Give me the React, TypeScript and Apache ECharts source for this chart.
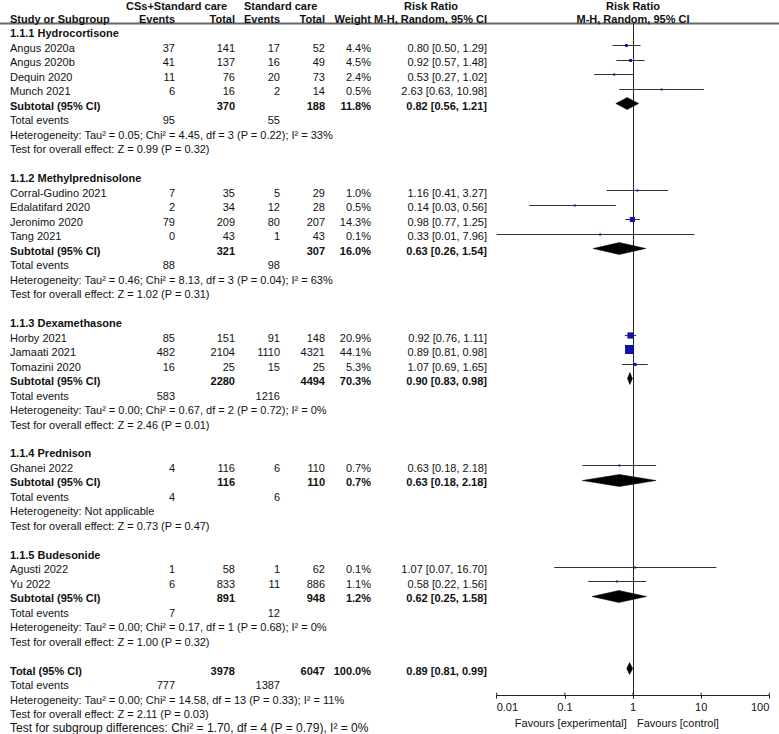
import React, { useEffect, useRef } from "react";
import * as echarts from "echarts";

// ---- study level data ----
const studies = [
  "Angus 2020a", "Angus 2020b", "Dequin 2020", "Munch 2021",
  "Corral-Gudino 2021", "Edalatifard 2020", "Jeronimo 2020", "Tang 2021",
  "Horby 2021", "Jamaati 2021", "Tomazini 2020",
  "Ghanei 2022",
  "Agusti 2022", "Yu 2022",
];
const studyGroup = [0, 0, 0, 0, 1, 1, 1, 1, 2, 2, 2, 3, 4, 4];
const expEvents = [37, 41, 11, 6, 7, 2, 79, 0, 85, 482, 16, 4, 1, 6];
const expTotal = [141, 137, 76, 16, 35, 34, 209, 43, 151, 2104, 25, 116, 58, 833];
const ctlEvents = [17, 16, 20, 2, 5, 12, 80, 1, 91, 1110, 15, 6, 1, 11];
const ctlTotal = [52, 49, 73, 14, 29, 28, 207, 43, 148, 4321, 25, 110, 62, 886];
const weights = [4.4, 4.5, 2.4, 0.5, 1.0, 0.5, 14.3, 0.1, 20.9, 44.1, 5.3, 0.7, 0.1, 1.1];
const riskRatio = [0.80, 0.92, 0.53, 2.63, 1.16, 0.14, 0.98, 0.33, 0.92, 0.89, 1.07, 0.63, 1.07, 0.58];
const ciLow = [0.50, 0.57, 0.27, 0.63, 0.41, 0.03, 0.77, 0.01, 0.76, 0.81, 0.69, 0.18, 0.07, 0.22];
const ciHigh = [1.29, 1.48, 1.02, 10.98, 3.27, 0.56, 1.25, 7.96, 1.11, 0.98, 1.65, 2.18, 16.70, 1.56];

// ---- subgroup data ----
const groupNames = [
  "1.1.1 Hydrocortisone", "1.1.2 Methylprednisolone", "1.1.3 Dexamethasone",
  "1.1.4 Prednison", "1.1.5 Budesonide",
];
const subExpTotal = [370, 321, 2280, 116, 891];
const subCtlTotal = [188, 307, 4494, 110, 948];
const subWeight = [11.8, 16.0, 70.3, 0.7, 1.2];
const subRR = [0.82, 0.63, 0.90, 0.63, 0.62];
const subLow = [0.56, 0.26, 0.83, 0.18, 0.25];
const subHigh = [1.21, 1.54, 0.98, 2.18, 1.58];
const subExpEvents = [95, 88, 583, 4, 7];
const subCtlEvents = [55, 98, 1216, 6, 12];
const subHeterogeneity = [
  "Heterogeneity: Tau² = 0.05; Chi² = 4.45, df = 3 (P = 0.22); I² = 33%",
  "Heterogeneity: Tau² = 0.46; Chi² = 8.13, df = 3 (P = 0.04); I² = 63%",
  "Heterogeneity: Tau² = 0.00; Chi² = 0.67, df = 2 (P = 0.72); I² = 0%",
  "Heterogeneity: Not applicable",
  "Heterogeneity: Tau² = 0.00; Chi² = 0.17, df = 1 (P = 0.68); I² = 0%",
];
const subOverall = [
  "Test for overall effect: Z = 0.99 (P = 0.32)",
  "Test for overall effect: Z = 1.02 (P = 0.31)",
  "Test for overall effect: Z = 2.46 (P = 0.01)",
  "Test for overall effect: Z = 0.73 (P = 0.47)",
  "Test for overall effect: Z = 1.00 (P = 0.32)",
];

// ---- pooled totals ----
const totalExp = 3978;
const totalCtl = 6047;
const totalWeight = 100.0;
const totalRR = 0.89;
const totalLow = 0.81;
const totalHigh = 0.99;
const totalExpEvents = 777;
const totalCtlEvents = 1387;
const totalHeterogeneity = "Heterogeneity: Tau² = 0.00; Chi² = 14.58, df = 13 (P = 0.33); I² = 11%";
const totalOverall = "Test for overall effect: Z = 2.11 (P = 0.03)";
const subgroupDifferences = "Test for subgroup differences: Chi² = 1.70, df = 4 (P = 0.79), I² = 0%";

// ---- axis ----
const tickValues = [0.01, 0.1, 1, 10, 100];
const tickLabels = ["0.01", "0.1", "1", "10", "100"];
const favoursLeft = "Favours [experimental]";
const favoursRight = "Favours [control]";

// ---- layout ----
const W = 779;
const H = 734;
const ROW_H = 14.49;
const TOP = 4.3;
const LAST_ROW = 50;
const AXIS_Y = 695.7;
const RULE_Y = 23.5;
const PLOT_LEFT = 496.7;
const PLOT_RIGHT = 769.3;
const HEADER_TOP_ROW = 0.12; // keeps the first header line inside the page
const MARK_SHIFT = -0.18; // marks sit slightly above the text middle
const FONT = '"Liberation Sans", Arial, sans-serif';
const TEXT_COLOR = "#111";
const COL = { name: 10, expEv: 175, expTot: 235, ctlEv: 280, ctlTot: 325, weight: 371, ci: 487, plot: 633 };

type Cell = {
  x: number; row: number; text: string; align: "left" | "right" | "center"; bold?: boolean; size?: number;
};
type Mark = { row: number; kind: "study" | "diamond"; rr: number; lo: number; hi: number; w: number };

const fmtCI = (r: number, l: number, h: number) => `${r.toFixed(2)} [${l.toFixed(2)}, ${h.toFixed(2)}]`;
const fmtW = (w: number) => `${w.toFixed(1)}%`;

function buildTable() {
  const cells: Cell[] = [];
  const marks: Mark[] = [];
  const add = (x: number, row: number, text: string | number, align: Cell["align"], bold = false, size = 11) =>
    cells.push({ x, row, text: String(text), align, bold, size });

  // header
  add(126, HEADER_TOP_ROW, "CSs+Standard care", "left", true);
  add(244, HEADER_TOP_ROW, "Standard care", "left", true);
  add(431, HEADER_TOP_ROW, "Risk Ratio", "center", true);
  add(COL.plot, HEADER_TOP_ROW, "Risk Ratio", "center", true);
  add(COL.name, 1, "Study or Subgroup", "left", true);
  add(COL.expEv, 1, "Events", "right", true);
  add(COL.expTot, 1, "Total", "right", true);
  add(COL.ctlEv, 1, "Events", "right", true);
  add(COL.ctlTot, 1, "Total", "right", true);
  add(COL.weight, 1, "Weight", "right", true);
  add(COL.ci, 1, "M-H, Random, 95% CI", "right", true);
  add(COL.plot, 1, "M-H, Random, 95% CI", "center", true);

  let row = 2;
  groupNames.forEach((g, gi) => {
    add(COL.name, row++, g, "left", true);
    studies.forEach((s, si) => {
      if (studyGroup[si] !== gi) return;
      add(COL.name, row, s, "left");
      add(COL.expEv, row, expEvents[si], "right");
      add(COL.expTot, row, expTotal[si], "right");
      add(COL.ctlEv, row, ctlEvents[si], "right");
      add(COL.ctlTot, row, ctlTotal[si], "right");
      add(COL.weight, row, fmtW(weights[si]), "right");
      add(COL.ci, row, fmtCI(riskRatio[si], ciLow[si], ciHigh[si]), "right");
      marks.push({ row, kind: "study", rr: riskRatio[si], lo: ciLow[si], hi: ciHigh[si], w: weights[si] });
      row++;
    });
    add(COL.name, row, "Subtotal (95% CI)", "left", true);
    add(COL.expTot, row, subExpTotal[gi], "right", true);
    add(COL.ctlTot, row, subCtlTotal[gi], "right", true);
    add(COL.weight, row, fmtW(subWeight[gi]), "right", true);
    add(COL.ci, row, fmtCI(subRR[gi], subLow[gi], subHigh[gi]), "right", true);
    marks.push({ row, kind: "diamond", rr: subRR[gi], lo: subLow[gi], hi: subHigh[gi], w: subWeight[gi] });
    row++;
    add(COL.name, row, "Total events", "left");
    add(COL.expEv, row, subExpEvents[gi], "right");
    add(COL.ctlEv, row, subCtlEvents[gi], "right");
    row++;
    add(COL.name, row++, subHeterogeneity[gi], "left");
    add(COL.name, row++, subOverall[gi], "left");
    row++; // blank spacer
  });

  add(COL.name, row, "Total (95% CI)", "left", true);
  add(COL.expTot, row, totalExp, "right", true);
  add(COL.ctlTot, row, totalCtl, "right", true);
  add(COL.weight, row, fmtW(totalWeight), "right", true);
  add(COL.ci, row, fmtCI(totalRR, totalLow, totalHigh), "right", true);
  marks.push({ row, kind: "diamond", rr: totalRR, lo: totalLow, hi: totalHigh, w: totalWeight });
  row++;
  add(COL.name, row, "Total events", "left");
  add(COL.expEv, row, totalExpEvents, "right");
  add(COL.ctlEv, row, totalCtlEvents, "right");
  row++;
  add(COL.name, row++, totalHeterogeneity, "left");
  add(COL.name, row++, totalOverall, "left");
  add(COL.name, row - 0.05, subgroupDifferences, "left", false, 12);
  row++;

  // favours captions under the risk ratio axis
  const favRow = (722.7 - TOP) / ROW_H;
  add(626.7, favRow, favoursLeft, "right");
  add(637, favRow, favoursRight, "left");

  return { cells, marks };
}

export default function App() {
  const ref = useRef<HTMLDivElement>(null);

  useEffect(() => {
    document.body.style.margin = "0";
    if (!ref.current) return;
    const chart = echarts.init(ref.current, undefined, { renderer: "svg" });
    const { cells, marks } = buildTable();
    const axisRow = (AXIS_Y - TOP) / ROW_H;
    const ruleRow = (RULE_Y - TOP) / ROW_H;
    const maxW = Math.max(...weights);

    chart.setOption({
      animation: false,
      backgroundColor: "#fff",
      grid: [
        { left: 0, right: 0, top: TOP, bottom: H - (TOP + LAST_ROW * ROW_H) },
        { left: PLOT_LEFT, right: W - PLOT_RIGHT, top: TOP, bottom: H - AXIS_Y },
      ],
      xAxis: [
        { type: "value", gridIndex: 0, min: 0, max: W, show: false },
        {
          type: "log",
          gridIndex: 1,
          position: "bottom",
          logBase: 10,
          min: 0.01,
          max: 100,
          axisLine: { show: true, onZero: false, lineStyle: { color: "#222", width: 1 } },
          axisTick: { show: true, length: 3, lineStyle: { color: "#222", width: 1 } },
          splitLine: { show: false },
          axisLabel: {
            show: true,
            fontSize: 11,
            fontFamily: FONT,
            color: TEXT_COLOR,
            margin: 6,
            alignMinLabel: "left",
            alignMaxLabel: "right",
            formatter: (v: number) => tickLabels[Math.round(Math.log10(v)) + 2],
          },
        },
      ],
      yAxis: [
        { type: "value", gridIndex: 0, inverse: true, min: 0, max: LAST_ROW, show: false },
        { type: "value", gridIndex: 1, inverse: true, min: 0, max: axisRow, show: false },
      ],
      graphic: [
        {
          type: "line",
          shape: { x1: 0, y1: RULE_Y, x2: W, y2: RULE_Y },
          style: { stroke: "#666", lineWidth: 2 },
          silent: true,
        },
      ],
      series: [
        {
          type: "custom",
          name: "table",
          xAxisIndex: 0,
          yAxisIndex: 0,
          clip: false,
          silent: true,
          data: cells.map((c) => [c.x, c.row]),
          renderItem: (params: any, api: any) => {
            const c = cells[params.dataIndex];
            const p = api.coord([c.x, c.row]);
            return {
              type: "text",
              x: p[0],
              y: p[1],
              style: {
                text: c.text,
                align: c.align,
                verticalAlign: "middle",
                font: `${c.bold ? "bold " : ""}${c.size ?? 11}px ${FONT}`,
                fill: TEXT_COLOR,
              },
            };
          },
        },
        {
          // line of no effect
          type: "custom",
          name: "reference",
          xAxisIndex: 1,
          yAxisIndex: 1,
          clip: false,
          silent: true,
          data: [[1, ruleRow]],
          renderItem: (params: any, api: any) => {
            const a = api.coord([1, ruleRow]);
            const b = api.coord([1, axisRow]);
            return {
              type: "line",
              shape: { x1: Math.round(a[0]) + 0.5, y1: a[1], x2: Math.round(a[0]) + 0.5, y2: b[1] + 3 },
              style: { stroke: "#222", lineWidth: 1 },
            };
          },
        },
        {
          // upper half of the axis ticks
          type: "custom",
          name: "ticks",
          xAxisIndex: 1,
          yAxisIndex: 1,
          clip: false,
          silent: true,
          data: tickValues.map((v) => [v, axisRow]),
          renderItem: (params: any, api: any) => {
            const p = api.coord([tickValues[params.dataIndex], axisRow]);
            return {
              type: "line",
              shape: { x1: p[0], y1: p[1] - 3, x2: p[0], y2: p[1] },
              style: { stroke: "#222", lineWidth: 1 },
            };
          },
        },
        {
          type: "custom",
          name: "effects",
          xAxisIndex: 1,
          yAxisIndex: 1,
          clip: false,
          silent: true,
          data: marks.map((m) => [m.rr, m.row]),
          renderItem: (params: any, api: any) => {
            const m = marks[params.dataIndex];
            const r = m.row + MARK_SHIFT;
            const pl = api.coord([m.lo, r]);
            const ph = api.coord([m.hi, r]);
            const pc = api.coord([m.rr, r]);
            const y = Math.round(pc[1]) + 0.5;
            if (m.kind === "diamond") {
              const hh = 6;
              return {
                type: "polygon",
                shape: { points: [[pl[0], y], [pc[0], y - hh], [ph[0], y], [pc[0], y + hh]] },
                style: { fill: "#000", stroke: "#000", lineWidth: 0.5 },
              };
            }
            const side = Math.max(2, 9 * Math.sqrt(m.w / maxW));
            return {
              type: "group",
              children: [
                {
                  type: "line",
                  shape: { x1: pl[0], y1: y, x2: ph[0], y2: y },
                  style: { stroke: "#333", lineWidth: 1 },
                },
                {
                  type: "rect",
                  shape: { x: pc[0] - side / 2, y: y - side / 2, width: side, height: side },
                  style: { fill: "#1010aa" },
                },
              ],
            };
          },
        },
      ],
    });

    return () => chart.dispose();
  }, []);

  return <div ref={ref} style={{ width: W, height: H }} />;
}
